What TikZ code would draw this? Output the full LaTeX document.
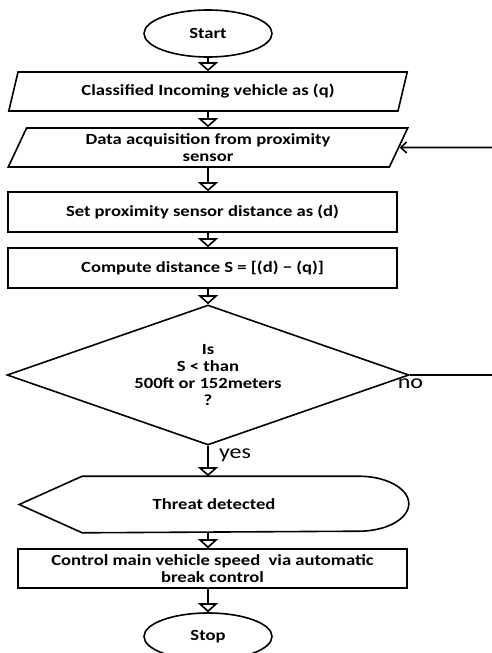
\documentclass[tikz,border=0pt]{standalone}
\usepackage{fontspec}
\setmainfont{Carlito}[FakeStretch=1.2]
\usetikzlibrary{shapes.geometric,arrows.meta,calc}
\begin{document}
\begin{tikzpicture}[x=1pt,y=-1pt,line width=1.6pt,
  every node/.style={font=\fontsize{15.5}{17.3}\selectfont\bfseries,align=center,inner sep=0pt},
  term/.style={draw,ellipse,minimum width=128pt,minimum height=47pt},
  io/.style={draw,trapezium,trapezium stretches=true,trapezium left angle=66.4,
    trapezium right angle=113.6,minimum width=400pt,minimum height=39pt},
  proc/.style={draw,rectangle,minimum width=389pt,minimum height=40pt},
  decision/.style={draw,diamond,shape aspect=2.87,minimum width=402pt,minimum height=140pt},
  flow/.style={-{Triangle[fill=white,width=20pt,length=9pt]}},
  feed/.style={-{Straight Barb[length=6pt,width=11pt]}},
  answer/.style={font=\fontsize{20}{24}\selectfont}]
\useasboundingbox (0,0) rectangle (492,653);

% flowchart blocks
\node[term] (start) at (208,33.5) {Start};
\node[io] (p1) at (208,91.5) {Classified Incoming vehicle as (q)};
\node[io] (p2) at (208,147.5) {Data acquisition from proximity\\sensor};
\node[proc] (r1) at (202.5,212) {Set proximity sensor distance as (d)};
\node[proc] (r2) at (202.5,268) {Compute distance S = [(d) − (q)]};
\node[decision] (dec) at (208,375) {Is\\S < than\\500ft or 152meters\\?};
\node[minimum width=388pt,minimum height=55pt] (threat) at (214,504.5) {Threat detected};
\node[proc,minimum height=39pt] (r3) at (212.5,568.5) {Control main vehicle speed~ via automatic\\break control};
\node[term] (stop) at (208,636.5) {Stop};

% display-shaped outline around the threat message
\draw (threat.west) -- ($(threat.north west)+(63,0)$)
  -- ($(threat.north east)+(-50,0)$)
  arc[start angle=90,end angle=-90,x radius=50pt,y radius=27.5pt]
  -- ($(threat.south west)+(63,0)$) -- cycle;

% main flow
\draw[flow] (start) -- (p1);
\draw[flow] (p1) -- (p2);
\draw[flow] (p2.center |- p2.south) -- (p2.center |- r1.north);
\draw[flow] (p2.center |- r1.south) -- (p2.center |- r2.north);
\draw[flow] (p2.center |- r2.south) -- (dec.north);
\draw[flow] (dec.south) -- (dec.south |- threat.north);
\draw[flow] (dec.south |- threat.south) -- (dec.south |- r3.north);
\draw[flow] (dec.south |- r3.south) -- (stop);

% branch labels
\node[answer] (yes) at (235,455) {yes};
\node[answer] (no) at (410.5,384) {no};

% "no" branch leaving to the right and the feedback entering the input block
\coordinate (noEnd) at (492,375);
\coordinate (feedStart) at (492,147.5);
\draw (dec.east) -- (noEnd);
\draw[feed] (feedStart) -- (p2);
\end{tikzpicture}
\end{document}
